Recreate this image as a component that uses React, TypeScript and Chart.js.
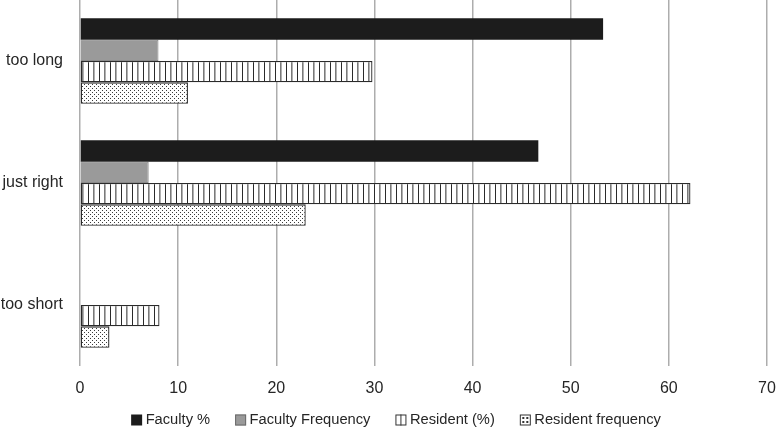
import React, { useEffect, useRef } from "react";
import { Chart, registerables } from "chart.js";

Chart.register(...registerables);

const categories = ["too long", "just right", "too short"];
const seriesNames = ["Faculty %", "Faculty Frequency", "Resident (%)", "Resident frequency"];
const facultyPct = [53.3, 46.7, 0];
const facultyFreq = [8, 7, 0];
const residentPct = [29.8, 62.2, 8.1];
const residentFreq = [11, 23, 3];
const xMin = 0;
const xMax = 70;
const xStep = 10;

const FONT = "'Liberation Sans', Arial, Helvetica, sans-serif";
const TEXT = "#262626";

function makeStripe(): CanvasPattern | string {
  const c = document.createElement("canvas");
  c.width = 11;
  c.height = 4;
  const g = c.getContext("2d");
  if (!g) return "#fff";
  g.fillStyle = "#ffffff";
  g.fillRect(0, 0, 11, 4);
  g.fillStyle = "#2a2a2a";
  g.fillRect(0, 0, 1, 4);
  g.fillStyle = "#7a7a7a";
  g.fillRect(5, 0, 1, 4);
  g.fillStyle = "#b0b0b0";
  g.fillRect(6, 0, 1, 4);
  return g.createPattern(c, "repeat") || "#fff";
}

function makeDots(): CanvasPattern | string {
  const c = document.createElement("canvas");
  c.width = 4;
  c.height = 4;
  const g = c.getContext("2d");
  if (!g) return "#fff";
  g.fillStyle = "#ffffff";
  g.fillRect(0, 0, 4, 4);
  g.fillStyle = "#3a3a3a";
  g.fillRect(0, 0, 1, 1);
  g.fillRect(2, 2, 1, 1);
  return g.createPattern(c, "repeat") || "#fff";
}

const legendPlugin = {
  id: "customLegend",
  afterDraw(chart: any) {
    const ctx = chart.ctx as CanvasRenderingContext2D;
    ctx.save();
    ctx.font = `14.7px ${FONT}`;
    ctx.textBaseline = "middle";
    const box = 11;
    const gapText = 3.5;
    const gapItem = 25;
    const widths = seriesNames.map((n) => ctx.measureText(n).width);
    let total = 0;
    widths.forEach((w, i) => {
      total += box + gapText + w + (i < widths.length - 1 ? gapItem : 0);
    });
    let x = 396 - total / 2;
    const yc = 420;
    const top = yc - box / 2;
    seriesNames.forEach((name, i) => {
      if (i === 0) {
        ctx.fillStyle = "#1c1c1c";
        ctx.fillRect(x, top, box, box);
      } else if (i === 1) {
        ctx.fillStyle = "#9a9a9a";
        ctx.fillRect(x, top, box, box);
        ctx.strokeStyle = "#6a6a6a";
        ctx.lineWidth = 1;
        ctx.strokeRect(x + 0.5, top + 0.5, box - 1, box - 1);
      } else if (i === 2) {
        ctx.fillStyle = "#fff";
        ctx.fillRect(x, top, box, box);
        ctx.strokeStyle = "#333";
        ctx.lineWidth = 1;
        ctx.strokeRect(x + 0.5, top + 0.5, box - 1, box - 1);
        ctx.beginPath();
        ctx.moveTo(x + 5.5, top);
        ctx.lineTo(x + 5.5, top + box);
        ctx.stroke();
      } else {
        ctx.fillStyle = "#fff";
        ctx.fillRect(x, top, box, box);
        ctx.strokeStyle = "#333";
        ctx.lineWidth = 1;
        ctx.strokeRect(x + 0.5, top + 0.5, box - 1, box - 1);
        ctx.fillStyle = "#333";
        ctx.fillRect(x + 2.5, top + 2.5, 2, 2);
        ctx.fillRect(x + 6.5, top + 2.5, 2, 2);
        ctx.fillRect(x + 2.5, top + 6.5, 2, 2);
        ctx.fillRect(x + 6.5, top + 6.5, 2, 2);
      }
      ctx.fillStyle = TEXT;
      ctx.textAlign = "left";
      ctx.fillText(name, x + box + gapText, yc);
      x += box + gapText + widths[i] + gapItem;
    });
    ctx.restore();
  },
};

function zeroPad(scale: any) {
  scale.paddingTop = 0;
  scale.paddingBottom = 0;
  scale.paddingLeft = 0;
  scale.paddingRight = 0;
}

export default function App() {
  const ref = useRef<HTMLCanvasElement | null>(null);

  useEffect(() => {
    if (!ref.current) return;
    const stripe = makeStripe();
    const dots = makeDots();
    const chart = new Chart(ref.current, {
      type: "bar",
      data: {
        labels: categories,
        datasets: [
          {
            label: seriesNames[0],
            data: facultyPct,
            backgroundColor: "#1c1c1c",
            borderWidth: 0,
          },
          {
            label: seriesNames[1],
            data: facultyFreq,
            backgroundColor: "#9a9a9a",
            borderColor: "#8a8a8a",
            borderWidth: 1,
          },
          {
            label: seriesNames[2],
            data: residentPct,
            backgroundColor: stripe as any,
            borderColor: "#2b2b2b",
            borderWidth: 1.3,
            borderSkipped: false,
          },
          {
            label: seriesNames[3],
            data: residentFreq,
            backgroundColor: dots as any,
            borderColor: "#2b2b2b",
            borderWidth: 1.3,
            borderSkipped: false,
          },
        ],
      },
      options: {
        indexAxis: "y",
        responsive: false,
        animation: false,
        maintainAspectRatio: false,
        layout: { padding: { top: 0, right: 11, bottom: 30, left: 0 } },
        datasets: {
          bar: { categoryPercentage: 0.7, barPercentage: 1.0 },
        },
        plugins: {
          legend: { display: false },
          tooltip: { enabled: false },
          title: { display: false },
        },
        scales: {
          x: {
            type: "linear",
            min: xMin,
            max: xMax,
            ticks: {
              stepSize: xStep,
              padding: 13,
              color: TEXT,
              font: { family: FONT, size: 16 },
            },
            grid: {
              color: "#adadad",
              lineWidth: 1.5,
              drawTicks: false,
            },
            border: { display: false },
            afterFit: (scale: any) => {
              scale.height = 32;
              zeroPad(scale);
            },
          },
          y: {
            type: "category",
            ticks: {
              padding: 17,
              color: TEXT,
              font: { family: FONT, size: 16 },
            },
            grid: { display: false, drawTicks: false },
            border: { display: false },
            afterFit: (scale: any) => {
              scale.width = 80;
              zeroPad(scale);
            },
          },
        },
      },
      plugins: [legendPlugin],
    } as any);
    return () => chart.destroy();
  }, []);

  return (
    <div style={{ position: "absolute", left: 0, top: 0, width: 778, height: 428, background: "#fff" }}>
      <canvas ref={ref} width={778} height={428} style={{ width: 778, height: 428, display: "block" }} />
    </div>
  );
}
